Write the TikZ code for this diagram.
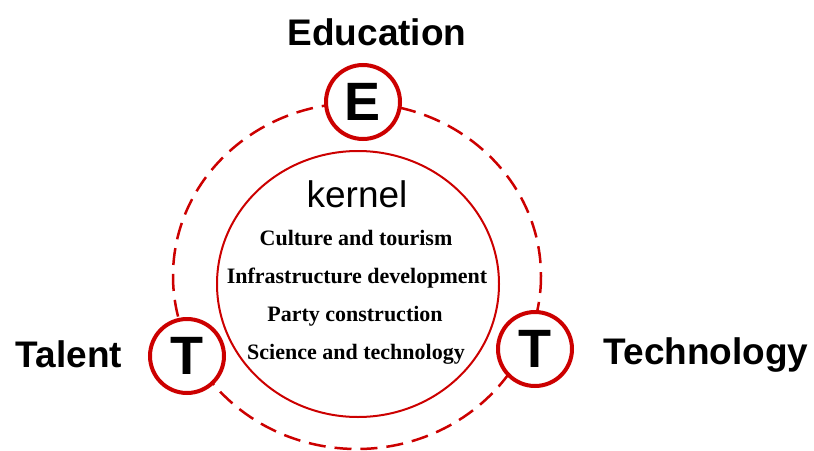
\documentclass[tikz,border=0pt]{standalone}
\usepackage{fontspec}
\setmainfont{Liberation Serif}
\setsansfont{Liberation Sans}
\definecolor{ettred}{RGB}{204,0,0}
\begin{document}
\begin{tikzpicture}
  [
  x=1pt,y=-1pt,
  letter/.style={circle,draw=ettred,line width=4pt,fill=white,minimum size=74pt,inner sep=0pt,font=\sffamily\bfseries\fontsize{54}{54}\selectfont},
  title/.style={anchor=base,font=\sffamily\bfseries\fontsize{37}{37}\selectfont},
  item/.style={anchor=base,font=\bfseries\fontsize{22}{22}\selectfont}
  ]
  \useasboundingbox (0,0) rectangle (814,450);

  \draw [ettred,line width=2.5pt,dash pattern=on 17pt off 9pt] (357,276) ellipse [x radius=184,y radius=173];
  \draw [ettred,line width=2pt] (358,284) ellipse [x radius=141,y radius=133];

  \node (e) at (363,102) [letter] {E};
  \node (tl) at (187,356) [letter] {T};
  \node (tr) at (535,349) [letter] {T};

  \node (edu) at (377,45) [title] {Education};
  \node (tal) at (69,367) [title] {Talent};
  \node (tec) at (706,364) [title] {Technology};

  \node (k) at (357,207) [anchor=base,font=\sffamily\fontsize{37}{37}\selectfont] {kernel};
  \node (k1) at (356,245) [item] {Culture and tourism};
  \node (k2) at (357,283) [item] {Infrastructure development};
  \node (k3) at (355,321) [item] {Party construction};
  \node (k4) at (356,359) [item] {Science and technology};
\end{tikzpicture}
\end{document}
